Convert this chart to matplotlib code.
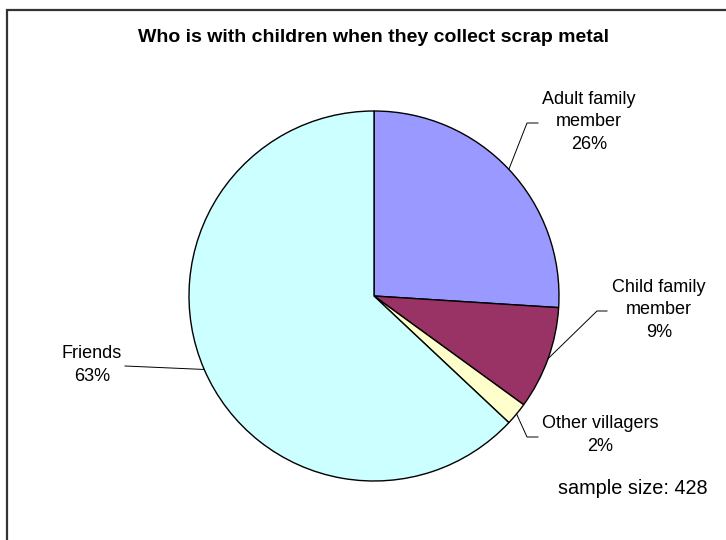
import numpy as np
import matplotlib
matplotlib.use("Agg")
import matplotlib.pyplot as plt
from matplotlib.patches import Rectangle

plt.rcParams['font.family'] = ['Liberation Sans', 'DejaVu Sans']

# data
categories = ['Adult family\nmember', 'Child family\nmember', 'Other villagers', 'Friends']
shares = [26, 9, 2, 63]
colors = ['#9999FF', '#993366', '#FFFFCC', '#CCFFFF']
title = 'Who is with children when they collect scrap metal'
sample_size = 428

W, H = 726, 540
CX, CY, R = 374, 296, 185

fig = plt.figure(figsize=(W / 100, H / 100), dpi=100)
fig.patch.set_facecolor('white')

# frame round the chart (runs off right and bottom edges)
fig.patches.append(Rectangle((6.5 / W, -0.05), 1.2, 1.05 - 9.5 / H, transform=fig.transFigure,
                             fill=False, edgecolor='#333333', linewidth=1.6))

ax = fig.add_axes([(CX - R) / W, (H - CY - R) / H, 2 * R / W, 2 * R / H])
wedges, _ = ax.pie(shares, colors=colors, startangle=90, counterclock=False, radius=1,
                   wedgeprops=dict(edgecolor='black', linewidth=1.0))
ax.set_xlim(-1, 1)
ax.set_ylim(-1, 1)
ax.set_aspect('equal')
ax.axis('off')


def to_data(px, py):
    return (px - CX) / R, (CY - py) / R


# label text centres (pixels) and leader elbows
label_pos = [(589, 122), (659, 310), (600, 435), (92, 365)]
elbows = [[(527, 123), (538, 123)],
          [(597, 311), (607, 311)],
          [(527, 437), (538, 437)],
          [(125, 366)]]

for w, cat, pct, (lx, ly), elb in zip(wedges, categories, shares, label_pos, elbows):
    mid = np.deg2rad((w.theta1 + w.theta2) / 2)
    pts = [(np.cos(mid), np.sin(mid))] + [to_data(*p) for p in elb]
    xs, ys = zip(*pts)
    ax.plot(xs, ys, color='black', linewidth=0.7, clip_on=False)
    tx, ty = to_data(lx, ly)
    ax.text(tx, ty, f'{cat}\n{pct}%', ha='center', va='center', fontsize=13,
            linespacing=1.43, clip_on=False)

fig.text(374 / W, 1 - 38 / H, title, ha='center', va='center', fontsize=14,
         fontweight='bold')
fig.text(633 / W, 1 - 488 / H, f'sample size: {sample_size}', ha='center', va='center',
         fontsize=14.3)

fig.savefig('out.png', dpi=100)
